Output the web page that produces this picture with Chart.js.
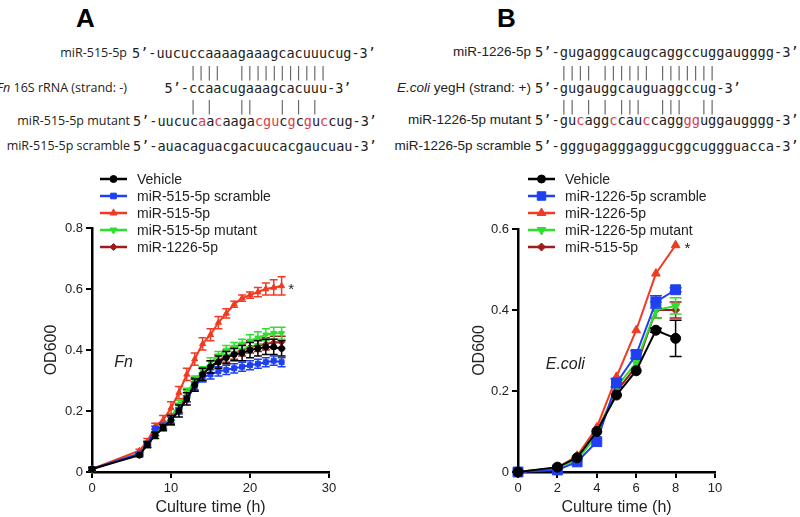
<!DOCTYPE html>
<html>
<head>
<meta charset="utf-8">
<script src="https://cdn.jsdelivr.net/npm/chart.js@4.4.0/dist/chart.umd.min.js"></script>
<style>
  body { margin: 0; background: #fff; }
  #page { position: relative; width: 800px; height: 517px; overflow: hidden; }
  .abs { position: absolute; white-space: pre; line-height: 16px; }
  .panel { position: absolute; font-family: "Liberation Sans", Arial, sans-serif; font-weight: bold; font-size: 26px; line-height: 26px; color: #000; }
  .lblA { font-family: "Open Sans", sans-serif; font-size: 12.5px; color: #222; text-align: right; }
  .lblB { font-family: "Liberation Sans", Arial, sans-serif; font-size: 13.5px; color: #222; text-align: right; }
  .seqA { font-family: "DejaVu Sans Mono", monospace; font-size: 13.5px; color: #222; }
  .seqB { font-family: "DejaVu Sans Mono", monospace; font-size: 13.7px; color: #222; }
  .bars { color: #666; filter: grayscale(100%); }
  .r { color: #e0394a; }
  canvas { position: absolute; }
</style>
</head>
<body>
<div id="page">
  <div class="panel" style="left:76px; top:5px;">A</div>
  <div class="panel" style="left:497px; top:5px;">B</div>

  <!-- panel A sequences -->
  <div class="abs lblA" style="left:0; width:127px; top:45px;">miR-515-5p</div>
  <div class="abs seqA" style="left:132px; top:45px;">5’-uucuccaaaagaaagcacuuucug-3’</div>
  <div class="abs seqA bars" style="left:132px; top:64px;">       ||||  |||||||||||</div>
  <div class="abs lblA" style="left:-20px; width:147px; top:80px;"><i>Fn</i> 16S rRNA (strand: -)</div>
  <div class="abs seqA" style="left:132px; top:80px;">    5’-ccaacugaaagcacuuu-3’</div>
  <div class="abs seqA bars" style="left:132px; top:98px;">       | |   ||   | | |</div>
  <div class="abs lblA" style="left:0; width:130px; top:113px;">miR-515-5p mutant</div>
  <div class="abs seqA" style="left:133px; top:113px;">5’-uucuc<span class="r">a</span>a<span class="r">c</span>aaga<span class="r">cgu</span>c<span class="r">g</span>c<span class="r">g</span>u<span class="r">c</span>cug-3’</div>
  <div class="abs lblA" style="left:0; width:130px; top:138px;">miR-515-5p scramble</div>
  <div class="abs seqA" style="left:133px; top:138px;">5’-auacaguacgacuucacgaucuau-3’</div>

  <!-- panel B sequences -->
  <div class="abs lblB" style="left:400px; width:131px; top:44px;">miR-1226-5p</div>
  <div class="abs seqB" style="left:535px; top:44px;">5’-gugagggcaugcaggccuggaugggg-3’</div>
  <div class="abs seqB bars" style="left:535px; top:64px;">   |||| |||||| |||||||</div>
  <div class="abs lblB" style="left:380px; width:151px; top:80px;"><i>E.coli</i> yegH (strand: +)</div>
  <div class="abs seqB" style="left:535px; top:80px;">5’-gugauggcauguaggccug-3’</div>
  <div class="abs seqB bars" style="left:535px; top:98px;">   || | | |||  |||  ||</div>
  <div class="abs lblB" style="left:400px; width:131px; top:112px;">miR-1226-5p mutant</div>
  <div class="abs seqB" style="left:535px; top:112px;">5’-gu<span class="r">c</span>agg<span class="r">c</span>cau<span class="r">c</span>cagg<span class="r">gg</span>uggaugggg-3’</div>
  <div class="abs lblB" style="left:380px; width:151px; top:138px;">miR-1226-5p scramble</div>
  <div class="abs seqB" style="left:535px; top:138px;">5’-gggugagggaggucggcuggguacca-3’</div>

  <canvas id="chartA" width="400" height="357" style="left:0; top:160px;"></canvas>
  <canvas id="chartB" width="380" height="357" style="left:420px; top:160px;"></canvas>
</div>
<script>
// panel A: Fn growth
const timeA = [0, 6, 7, 8, 9, 10, 11, 12, 13, 14, 15, 16, 17, 18, 19, 20, 21, 22, 23, 24];
const vehicleA = [0.01, 0.055, 0.09, 0.12, 0.145, 0.17, 0.20, 0.24, 0.285, 0.32, 0.345, 0.36, 0.375, 0.385, 0.39, 0.40, 0.405, 0.41, 0.41, 0.405];
const vehicleAErr = [0.005, 0.005, 0.01, 0.01, 0.01, 0.015, 0.02, 0.02, 0.02, 0.02, 0.02, 0.02, 0.02, 0.02, 0.025, 0.025, 0.025, 0.025, 0.025, 0.025];
const scrambleA = [0.01, 0.06, 0.09, 0.14, 0.15, 0.17, 0.20, 0.24, 0.28, 0.31, 0.32, 0.33, 0.335, 0.34, 0.345, 0.35, 0.355, 0.36, 0.365, 0.36];
const scrambleAErr = [0.005, 0.005, 0.005, 0.01, 0.01, 0.01, 0.01, 0.01, 0.015, 0.015, 0.015, 0.015, 0.015, 0.015, 0.015, 0.015, 0.015, 0.015, 0.015, 0.015];
const mir515A = [0.01, 0.07, 0.10, 0.15, 0.17, 0.21, 0.26, 0.32, 0.37, 0.42, 0.45, 0.49, 0.52, 0.55, 0.57, 0.58, 0.59, 0.60, 0.605, 0.61];
const mir515AErr = [0.005, 0.005, 0.01, 0.01, 0.015, 0.02, 0.02, 0.02, 0.02, 0.02, 0.02, 0.02, 0.015, 0.01, 0.01, 0.01, 0.015, 0.02, 0.025, 0.03];
const mutantA = [0.01, 0.06, 0.09, 0.13, 0.15, 0.18, 0.22, 0.26, 0.30, 0.33, 0.36, 0.38, 0.40, 0.41, 0.42, 0.43, 0.44, 0.45, 0.455, 0.455];
const mutantAErr = [0.005, 0.005, 0.01, 0.01, 0.01, 0.01, 0.015, 0.015, 0.015, 0.015, 0.015, 0.015, 0.015, 0.015, 0.015, 0.02, 0.02, 0.02, 0.02, 0.02];
const mir1226A = [0.01, 0.06, 0.09, 0.13, 0.15, 0.17, 0.21, 0.25, 0.29, 0.32, 0.345, 0.365, 0.38, 0.39, 0.40, 0.41, 0.415, 0.42, 0.425, 0.425];
const mir1226AErr = [0.005, 0.005, 0.01, 0.01, 0.01, 0.015, 0.015, 0.02, 0.02, 0.02, 0.02, 0.02, 0.02, 0.02, 0.02, 0.02, 0.02, 0.02, 0.02, 0.02];

// panel B: E.coli growth
const timeB = [0, 2, 3, 4, 5, 6, 7, 8];
const vehicleB = [0, 0.012, 0.035, 0.10, 0.19, 0.25, 0.35, 0.33];
const vehicleBErr = [0, 0, 0, 0, 0, 0, 0.005, 0.045];
const scrambleB = [0, 0.005, 0.025, 0.075, 0.22, 0.29, 0.42, 0.45];
const scrambleBErr = [0, 0, 0, 0, 0.01, 0.01, 0.015, 0.005];
const mir1226B = [0, 0.01, 0.04, 0.11, 0.235, 0.35, 0.49, 0.56];
const mir1226BErr = [0, 0, 0, 0, 0, 0, 0, 0];
const mutantB = [0, 0.01, 0.03, 0.09, 0.21, 0.27, 0.40, 0.41];
const mutantBErr = [0, 0, 0, 0, 0, 0, 0.02, 0.02];
const mir515B = [0, 0.01, 0.035, 0.10, 0.20, 0.26, 0.40, 0.40];
const mir515BErr = [0, 0, 0, 0, 0, 0, 0.02, 0.02];

const sans = '"Liberation Sans", Arial, sans-serif';
const BLACK = '#000000', BLUE = '#1f3ff0', RED = '#f03a22', GREEN = '#2de02d', DRED = '#9e1c1c';

function pts(xs, ys) { return xs.map((x, i) => ({ x: x, y: ys[i] })); }

function ds(label, xs, ys, err, color, style, r, rot) {
  return {
    label: label, data: pts(xs, ys), err: err,
    borderColor: color, backgroundColor: color, pointBackgroundColor: color, pointBorderColor: color,
    pointStyle: style, pointRadius: r, pointRotation: rot || 0, pointBorderWidth: 1,
    borderWidth: 2, showLine: true, tension: 0, clip: false
  };
}

// error bars drawn through the chart's scales
const errorBars = {
  id: 'errorBars',
  afterDatasetDraw(chart, args, opts) {
    const d = chart.data.datasets[args.index];
    if (!d.err) return;
    const xs = chart.scales.x, ys = chart.scales.y, ctx = chart.ctx;
    ctx.save();
    ctx.strokeStyle = d.borderColor;
    ctx.lineWidth = 1.5;
    d.data.forEach((p, i) => {
      const e = d.err[i];
      if (!e) return;
      const x = xs.getPixelForValue(p.x);
      const y1 = ys.getPixelForValue(p.y + e), y2 = ys.getPixelForValue(p.y - e);
      ctx.beginPath();
      ctx.moveTo(x, y1); ctx.lineTo(x, y2);
      ctx.moveTo(x - opts.cap, y1); ctx.lineTo(x + opts.cap, y1);
      ctx.moveTo(x - opts.cap, y2); ctx.lineTo(x + opts.cap, y2);
      ctx.stroke();
    });
    ctx.restore();
  }
};

// legend stacked above the plot, plus the species label and star
const extras = {
  id: 'extras',
  afterDraw(chart, args, opts) {
    const ctx = chart.ctx, xs = chart.scales.x, ys = chart.scales.y;
    const x0 = chart.chartArea.left + opts.dx;
    ctx.save();
    chart.data.datasets.forEach((d, i) => {
      const y = opts.top + i * opts.step;
      ctx.strokeStyle = d.borderColor;
      ctx.fillStyle = d.borderColor;
      ctx.lineWidth = 2.5;
      ctx.beginPath(); ctx.moveTo(x0, y); ctx.lineTo(x0 + opts.len, y); ctx.stroke();
      ctx.lineWidth = 1;
      Chart.helpers.drawPoint(ctx, { pointStyle: d.pointStyle, radius: opts.radius[i], rotation: d.pointRotation, borderWidth: 1 }, x0 + opts.len / 2, y);
      ctx.fillStyle = '#222';
      ctx.font = '14px ' + sans;
      ctx.textBaseline = 'middle';
      ctx.textAlign = 'left';
      ctx.fillText(d.label, x0 + opts.len + 10, y + 1);
    });
    ctx.fillStyle = '#222';
    ctx.font = 'italic 16px ' + sans;
    ctx.textAlign = 'center';
    ctx.fillText(opts.species, xs.getPixelForValue(opts.spAt[0]), ys.getPixelForValue(opts.spAt[1]));
    ctx.font = '15px ' + sans;
    ctx.fillText('*', xs.getPixelForValue(opts.starAt[0]), ys.getPixelForValue(opts.starAt[1]) + 4);
    ctx.restore();
  }
};

function axisCfg(min, max, step, title, fit, isY) {
  return {
    type: 'linear', min: min, max: max,
    ticks: {
      stepSize: step, color: '#222', padding: 3,
      font: { size: 13, family: sans },
      callback: v => isY ? (v === 0 ? '0' : v.toFixed(1)) : v
    },
    grid: { drawOnChartArea: false, color: '#000', lineWidth: 2, tickLength: 6 },
    border: { color: '#000', width: 2.5 },
    title: { display: true, text: title, color: '#222', font: { size: 16, family: sans }, padding: 0 },
    afterFit: fit
  };
}

new Chart('chartA', {
  type: 'scatter',
  data: {
    datasets: [
      ds('Vehicle', timeA, vehicleA, vehicleAErr, BLACK, 'circle', 3),
      ds('miR-515-5p scramble', timeA, scrambleA, scrambleAErr, BLUE, 'rect', 3.5),
      ds('miR-515-5p', timeA, mir515A, mir515AErr, RED, 'triangle', 3.5),
      ds('miR-515-5p mutant', timeA, mutantA, mutantAErr, GREEN, 'triangle', 3.5, 180),
      ds('miR-1226-5p', timeA, mir1226A, mir1226AErr, DRED, 'rectRot', 3)
    ]
  },
  options: {
    responsive: false, animation: false,
    layout: { padding: { left: 42, top: 68, right: 71, bottom: 0 } },
    scales: {
      x: axisCfg(0, 30, 10, 'Culture time (h)', s => { s.height = 45; }, false),
      y: axisCfg(0, 0.8, 0.2, 'OD600', s => { s.width = 50; }, true)
    },
    plugins: {
      legend: { display: false }, tooltip: { enabled: false },
      errorBars: { cap: 4 },
      extras: { dx: 8, len: 27, top: 19, step: 17, radius: [3.5, 4, 4, 4, 3.5], species: 'Fn', spAt: [4, 0.36], starAt: [25.2, 0.61] }
    }
  },
  plugins: [errorBars, extras]
});

new Chart('chartB', {
  type: 'scatter',
  data: {
    datasets: [
      ds('Vehicle', timeB, vehicleB, vehicleBErr, BLACK, 'circle', 5),
      ds('miR-1226-5p scramble', timeB, scrambleB, scrambleBErr, BLUE, 'rect', 7),
      ds('miR-1226-5p', timeB, mir1226B, mir1226BErr, RED, 'triangle', 5),
      ds('miR-1226-5p mutant', timeB, mutantB, mutantBErr, GREEN, 'triangle', 5, 180),
      ds('miR-515-5p', timeB, mir515B, mir515BErr, DRED, 'rectRot', 4)
    ]
  },
  options: {
    responsive: false, animation: false,
    layout: { padding: { left: 50, top: 69, right: 85, bottom: 0 } },
    scales: {
      x: axisCfg(0, 10, 2, 'Culture time (h)', s => { s.height = 45; }, false),
      y: axisCfg(0, 0.6, 0.2, 'OD600', s => { s.width = 48; }, true)
    },
    plugins: {
      legend: { display: false }, tooltip: { enabled: false },
      errorBars: { cap: 6 },
      extras: { dx: 10, len: 27, top: 19, step: 17, radius: [4, 6, 5, 5, 4], species: 'E.coli', spAt: [2.4, 0.265], starAt: [8.6, 0.56] }
    }
  },
  plugins: [errorBars, extras]
});
</script>
</body>
</html>
